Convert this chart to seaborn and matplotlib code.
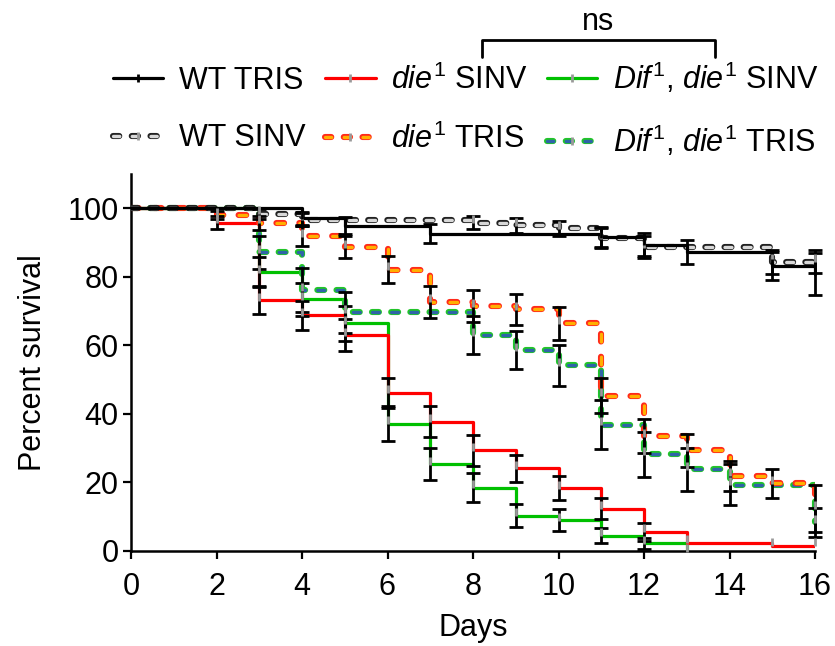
import matplotlib
matplotlib.use("Agg")
import matplotlib.pyplot as plt
import seaborn as sns
import pandas as pd
from matplotlib.lines import Line2D
from matplotlib.legend_handler import HandlerTuple

# percent survival at each event day (KM steps) and the error bar half-width
wt_tris_days = [0, 4, 5, 7, 11, 12, 13, 15, 16]
wt_tris_surv = [100, 97.1, 94.9, 92.6, 91.6, 89.4, 87.3, 83.1, 80.8]
wt_tris_err = [0, 1.9, 2.5, 2.8, 2.9, 3.3, 3.5, 4.0, 6.2]

wt_sinv_days = [0, 3, 4, 8, 9, 10, 11, 12, 15, 16]
wt_sinv_surv = [100, 98.4, 96.7, 95.8, 95.0, 94.1, 91.3, 88.7, 84.4, 84.4]
wt_sinv_err = [0, 1.5, 2.0, 1.9, 2.1, 2.3, 2.8, 3.1, 3.5, 3.3]

die_sinv_days = [0, 2, 3, 4, 5, 6, 7, 8, 9, 10, 11, 12, 13, 15, 16]
die_sinv_surv = [100, 95.8, 73.2, 68.8, 63.0, 46.2, 37.7, 29.4, 24.1, 18.3,
                 12.4, 5.6, 2.4, 1.5, 1.5]
die_sinv_err = [0, 1.9, 4.0, 4.2, 4.6, 4.4, 4.5, 4.5, 3.9, 3.5, 3.1, 2.6, 0, 0, 0]

die_tris_days = [0, 2, 3, 4, 5, 6, 7, 8, 9, 10, 11, 12, 13, 14, 15, 16]
die_tris_surv = [100, 98.0, 95.8, 91.8, 88.6, 82.1, 72.7, 71.5, 70.5, 66.4,
                 45.3, 33.5, 29.4, 22.0, 19.7, 12.4]
die_tris_err = [0, 1.2, 2.0, 2.9, 3.2, 3.9, 4.6, 4.7, 4.6, 4.8, 5.1, 4.9, 4.8,
                4.4, 4.1, 7.0]

dif_sinv_days = [0, 3, 4, 5, 6, 7, 8, 9, 10, 11, 12, 13]
dif_sinv_surv = [100, 81.4, 73.4, 66.4, 37.2, 25.4, 18.5, 10.3, 9.0, 4.5, 2.2, 0]
dif_sinv_err = [0, 4.4, 4.9, 5.0, 5.2, 4.7, 4.2, 3.3, 3.2, 2.2, 1.5, 0]

dif_tris_days = [0, 3, 4, 5, 8, 9, 10, 11, 12, 13, 14, 16]
dif_tris_surv = [100, 87.1, 76.1, 69.6, 63.0, 58.6, 54.2, 36.9, 28.2, 23.8, 19.4, 8.4]
dif_tris_err = [0, 4.9, 6.4, 6.0, 5.5, 5.5, 6.0, 7.2, 6.6, 6.2, 6.0, 4.2]

x_ticks = [0, 2, 4, 6, 8, 10, 12, 14, 16]
y_ticks = [0, 20, 40, 60, 80, 100]

sns.set_style("ticks")
plt.rcParams["font.family"] = ["Liberation Sans", "DejaVu Sans"]
plt.rcParams["mathtext.fontset"] = "custom"
plt.rcParams["mathtext.rm"] = "Liberation Sans"
plt.rcParams["mathtext.it"] = "Liberation Sans:italic"
plt.rcParams["lines.scale_dashes"] = False
for key in ["text.color", "axes.labelcolor", "xtick.color", "ytick.color", "axes.edgecolor"]:
    plt.rcParams[key] = "black"

FS = 22
fig = plt.figure(figsize=(8.35, 6.46), dpi=100)
ax = fig.add_axes([131 / 835, 1 - 551 / 646, 684 / 835, 377 / 646])

TICK_GRAY = "#9a9a9a"


def draw_curve(days, surv, err, color, fill=None, dashes=None, tick=TICK_GRAY, z=2):
    df = pd.DataFrame({"day": days, "surv": surv})
    if fill is None:
        sns.lineplot(data=df, x="day", y="surv", drawstyle="steps-post", color=color,
                     lw=2.3, estimator=None, sort=False, ax=ax, zorder=z)
    else:
        sns.lineplot(data=df, x="day", y="surv", drawstyle="steps-post", color=color,
                     lw=4.4, linestyle=(0, dashes), dash_capstyle="round",
                     estimator=None, sort=False, ax=ax, zorder=z)
        sns.lineplot(data=df, x="day", y="surv", drawstyle="steps-post", color=fill,
                     lw=2.4, linestyle=(0, dashes), dash_capstyle="round",
                     estimator=None, sort=False, ax=ax, zorder=z + 0.1)
    pts = df.assign(err=err).iloc[1:]
    pts = pts[pts["err"] > 0]
    ax.errorbar(pts["day"], pts["surv"], yerr=pts["err"], fmt="none", ecolor="black",
                elinewidth=2, capsize=5, capthick=2, zorder=5, clip_on=False)
    ax.plot(df["day"].iloc[1:], df["surv"].iloc[1:] + 1.0, ls="none", marker="|",
            ms=6, mew=2, color=tick, zorder=6, clip_on=False)


draw_curve(dif_sinv_days, dif_sinv_surv, dif_sinv_err, "#00c000", z=2)
draw_curve(die_sinv_days, die_sinv_surv, die_sinv_err, "#ff0000", z=2.2)
draw_curve(dif_tris_days, dif_tris_surv, dif_tris_err, "#22c42a", fill="#2f64a8",
           dashes=(5, 8.8), z=2.4)
draw_curve(die_tris_days, die_tris_surv, die_tris_err, "#ff2a1a", fill="#ffb000",
           dashes=(5.5, 11), z=2.6)
draw_curve(wt_sinv_days, wt_sinv_surv, wt_sinv_err, "#222222", fill="#d8d8d8",
           dashes=(5, 8.8), z=2.8)
draw_curve(wt_tris_days, wt_tris_surv, wt_tris_err, "black", tick="black", z=3)

ax.set_xlim(0, 16)
ax.set_ylim(0, 110)
ax.set_xticks(x_ticks)
ax.set_yticks(y_ticks)
ax.tick_params(labelsize=FS, length=6, width=1.6, direction="out")
ax.tick_params(axis="x", pad=9)
ax.tick_params(axis="y", pad=3)
for side in ["left", "bottom"]:
    ax.spines[side].set_linewidth(1.8)
sns.despine(ax=ax)
ax.set_xlabel("Days", fontsize=FS, labelpad=8)
ax.set_ylabel("Percent survival", fontsize=FS, labelpad=14)


def handle(color, fill=None, dashes=None, tick=TICK_GRAY):
    mk = Line2D([], [], ls="none", marker="|", ms=6, mew=2, color=tick)
    if fill is None:
        return (Line2D([], [], color=color, lw=2.3), mk)
    out = Line2D([], [], color=color, lw=4.4, ls=(0, dashes), dash_capstyle="round")
    inn = Line2D([], [], color=fill, lw=2.4, ls=(0, dashes), dash_capstyle="round")
    return (out, inn, mk)


handles = [
    handle("black", tick="black"),
    handle("#222222", "#d8d8d8", (4.5, 9)),
    handle("#ff0000"),
    handle("#ff2a1a", "#ffb000", (4.5, 9)),
    handle("#00c000"),
    handle("#22c42a", "#2f64a8", (4.5, 9)),
]
labels = [
    "WT TRIS",
    "WT SINV",
    r"$\mathit{die}^{\mathit{1}}$ SINV",
    r"$\mathit{die}^{\mathit{1}}$ TRIS",
    r"$\mathit{Dif}^{\mathit{1}}$, $\mathit{die}^{\mathit{1}}$ SINV",
    r"$\mathit{Dif}^{\mathit{1}}$, $\mathit{die}^{\mathit{1}}$ TRIS",
]
fig.legend(handles, labels, ncol=3, loc="upper left", bbox_to_anchor=(0.117, 0.93),
           frameon=False, fontsize=FS, handlelength=1.65, handletextpad=0.5,
           columnspacing=0.65, labelspacing=0.9, numpoints=1, borderpad=0,
           handler_map={tuple: HandlerTuple(ndivide=1, pad=0)})

# significance bracket
bx0, bx1 = 482 / 835, 715 / 835
by0, by1 = 1 - 57 / 646, 1 - 40 / 646
fig.add_artist(Line2D([bx0, bx0, bx1, bx1], [by0, by1, by1, by0], color="black",
                      lw=2, transform=fig.transFigure))
fig.text((bx0 + bx1) / 2, 1 - 22 / 646, "ns", ha="center", va="center", fontsize=FS)

fig.savefig("out.png", dpi=100)
